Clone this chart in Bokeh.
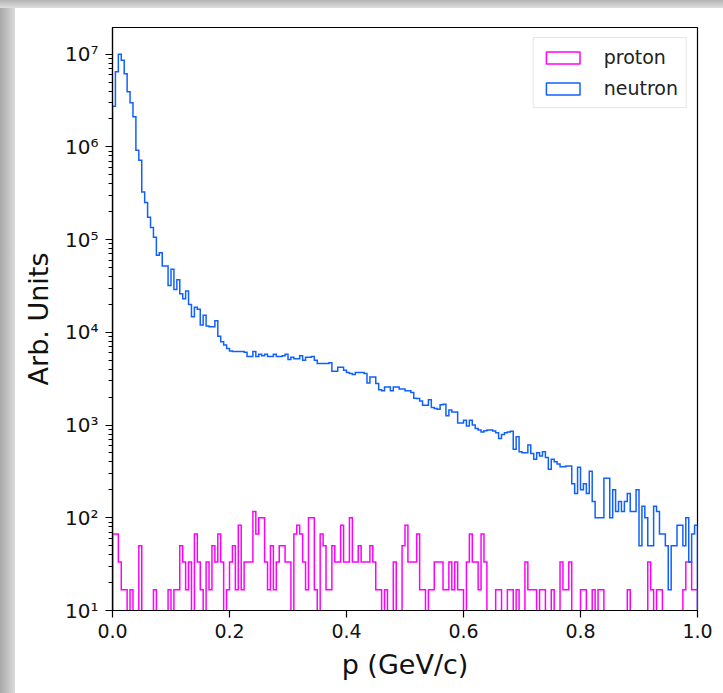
import numpy as np
from bokeh.plotting import figure
from bokeh.models import (Range1d, FixedTicker, CustomJSTickFormatter, NumeralTickFormatter,
                          Legend, LegendItem, Spacer, ColumnDataSource)
from bokeh.layouts import column, row
from bokeh.embed import file_html
from bokeh.resources import INLINE

# ---------------- data ----------------
P_MIN, P_MAX, N_BINS = 0.0, 1.0, 200

neutron_counts = [
    2.75e6, 6.46e6, 1.0e7, 8.6e6, 6.17e6, 3.93e6, 2.99e6, 2.11e6, 9.2e5, 7.2e5,
    3.27e5, 2.51e5, 1.74e5, 1.35e5, 1.06e5, 6.8e4, 7.2e4, 5.2e4, 5.2e4, 3.2e4,
    4.8e4, 2.9e4, 3.7e4, 2.6e4, 2.3e4, 2.8e4, 2.0e4, 1.47e4, 1.86e4, 1.77e4,
    1.2e4, 1.53e4, 1.17e4, 1.15e4, 1.15e4, 1.33e4, 9.1e3, 7.9e3, 7.3e3, 6.7e3,
    6.3e3, 6.2e3, 6.2e3, 6.2e3, 6.2e3, 6.1e3, 5.5e3, 5.5e3, 6.2e3, 5.5e3,
    5.8e3, 5.6e3, 5.8e3, 5.5e3, 5.5e3, 5.8e3, 5.5e3, 5.5e3, 5.6e3, 5.8e3,
    5.1e3, 5.4e3, 5.2e3, 5.2e3, 5.6e3, 5.0e3, 5.4e3, 5.4e3, 5.5e3, 5.0e3,
    4.6e3, 4.6e3, 4.6e3, 4.6e3, 4.7e3, 3.8e3, 3.8e3, 4.2e3, 4.2e3, 3.9e3,
    3.7e3, 3.6e3, 3.5e3, 3.7e3, 3.7e3, 3.7e3, 3.6e3, 2.85e3, 3.3e3, 3.3e3,
    2.8e3, 2.4e3, 2.35e3, 2.57e3, 2.57e3, 2.35e3, 2.57e3, 2.57e3, 2.45e3, 2.45e3,
    2.35e3, 2.35e3, 2.24e3, 1.95e3, 1.93e3, 1.82e3, 1.64e3, 1.64e3, 1.88e3, 1.55e3,
    1.51e3, 1.48e3, 1.66e3, 1.68e3, 1.26e3, 1.45e3, 1.38e3, 1.38e3, 1.05e3, 1.05e3,
    1130, 980, 1130, 1000, 920, 883, 841, 869, 883, 883,
    861, 826, 718, 793, 826, 841, 855, 547, 748, 515,
    504, 504, 608, 495, 427, 504, 463, 515, 448, 333,
    427, 403, 380, 356, 356, 361, 361, 233.3, 183.3, 350,
    200, 233.3, 183.3, 316.7, 150, 100, 100, 100, 266.7, 266.7,
    100, 200, 116.7, 150, 116.7, 150, 183.3, 116.7, 116.7, 200,
    50, 133.3, 100, 50, 50, 133.3, 116.7, 66.7, 66.7, 50,
    16.7, 50, 50, 83.3, 83.3, 50, 100, 33.3, 66.7, 83.3,
]

proton_counts = [
    66.7, 66.7, 33.3, 16.7, 16.7, 0, 16.7, 0, 0, 50,
    0, 0, 0, 0, 16.7, 0, 0, 0, 0, 16.7,
    0, 16.7, 16.7, 50, 33.3, 16.7, 33.3, 0, 66.7, 33.3,
    16.7, 0, 33.3, 16.7, 50, 33.3, 66.7, 33.3, 0, 16.7,
    33.3, 50, 16.7, 83.3, 16.7, 33.3, 33.3, 33.3, 116.7, 66.7,
    100, 100, 33.3, 16.7, 50, 16.7, 33.3, 50, 50, 33.3,
    33.3, 0, 66.7, 83.3, 66.7, 33.3, 16.7, 100, 100, 16.7,
    0, 66.7, 50, 16.7, 16.7, 50, 33.3, 33.3, 83.3, 33.3,
    33.3, 100, 33.3, 33.3, 50, 33.3, 33.3, 33.3, 50, 33.3,
    16.7, 16.7, 0, 16.7, 0, 0, 33.3, 0, 0, 50,
    83.3, 33.3, 33.3, 33.3, 66.7, 16.7, 16.7, 0, 16.7, 16.7,
    33.3, 33.3, 33.3, 16.7, 16.7, 33.3, 16.7, 33.3, 16.7, 16.7,
    0, 33.3, 66.7, 33.3, 33.3, 16.7, 66.7, 33.3, 0, 0,
    0, 16.7, 16.7, 0, 0, 16.7, 16.7, 0, 16.7, 0,
    0, 33.3, 16.7, 16.7, 16.7, 0, 16.7, 16.7, 0, 0,
    16.7, 0, 0, 33.3, 16.7, 16.7, 33.3, 0, 0, 0,
    16.7, 16.7, 0, 0, 16.7, 0, 16.7, 16.7, 0, 0,
    0, 0, 0, 0, 0, 0, 16.7, 0, 0, 0,
    0, 0, 0, 33.3, 16.7, 0, 16.7, 16.7, 0, 0,
    0, 0, 0, 0, 0, 16.7, 33.3, 33.3, 16.7, 16.7,
]

series_labels = ["proton", "neutron"]
x_ticks = [0.0, 0.2, 0.4, 0.6, 0.8, 1.0]
y_decades = [1, 2, 3, 4, 5, 6, 7]
Y_MIN, Y_MAX = 10, 1.94e7

PROTON_COLOR = "#ff00ff"
NEUTRON_COLOR = "#1060ff"
FONT = "DejaVu Sans"

edges = np.linspace(P_MIN, P_MAX, N_BINS + 1)
FLOOR = 1.0  # below the visible range: empty bins drop out of the frame


def step_path(vals):
    xs, ys = [edges[0]], [FLOOR]
    for i, v in enumerate(vals):
        v = v if v > 0 else FLOOR
        xs += [edges[i], edges[i + 1]]
        ys += [v, v]
    xs.append(edges[-1])
    ys.append(FLOOR)
    return xs, ys


p = figure(width=708, height=685,
           x_range=Range1d(P_MIN, P_MAX), y_range=Range1d(Y_MIN, Y_MAX),
           y_axis_type="log", output_backend="svg", toolbar_location=None,
           min_border_left=97, min_border_right=26, min_border_top=19,
           min_border_bottom=83)
p.background_fill_color = "white"
p.border_fill_color = "white"
p.grid.visible = False
p.outline_line_color = "black"
p.outline_line_width = 1.2
p.outline_line_alpha = 1.0

px, py = step_path(proton_counts)
nx, ny = step_path(neutron_counts)
p.line(px, py, line_color=PROTON_COLOR, line_width=1.5, line_join="miter")
p.line(nx, ny, line_color=NEUTRON_COLOR, line_width=1.5, line_join="miter")

# legend glyphs (outlined boxes like matplotlib step histograms); NaN row => nothing drawn in plot
leg_src = ColumnDataSource(dict(l=[np.nan], r=[np.nan], b=[np.nan], t=[np.nan]))
lp = p.quad(left="l", right="r", bottom="b", top="t", source=leg_src,
            fill_color=None, line_color=PROTON_COLOR, line_width=1.5)
ln = p.quad(left="l", right="r", bottom="b", top="t", source=leg_src,
            fill_color=None, line_color=NEUTRON_COLOR, line_width=1.5)
legend = Legend(items=[LegendItem(label=series_labels[0], renderers=[lp]),
                       LegendItem(label=series_labels[1], renderers=[ln])],
                location="top_right")
legend.label_text_font = FONT
legend.label_text_font_size = "19px"
legend.label_text_color = "#222222"
legend.glyph_width = 42
legend.glyph_height = 15
legend.label_height = 22
legend.label_standoff = 20
legend.spacing = 9
legend.padding = 8
legend.margin = 10
legend.border_line_color = "#cccccc"
legend.border_line_width = 1
legend.background_fill_color = "white"
legend.background_fill_alpha = 0.8
p.add_layout(legend)

# x axis
xa = p.xaxis[0]
xa.ticker = FixedTicker(ticks=x_ticks)
xa.formatter = NumeralTickFormatter(format="0.0")
xa.axis_label = "p (GeV/c)"

# y axis
ya = p.yaxis[0]
ya.ticker = FixedTicker(ticks=[10.0 ** k for k in y_decades],
                        minor_ticks=[m * 10.0 ** k for k in y_decades for m in range(2, 10)
                                     if m * 10.0 ** k < Y_MAX])
ya.formatter = CustomJSTickFormatter(code="""
const sup = {"0":"\u2070","1":"\u00b9","2":"\u00b2","3":"\u00b3","4":"\u2074",
             "5":"\u2075","6":"\u2076","7":"\u2077","8":"\u2078","9":"\u2079","-":"\u207b"};
const e = Math.round(Math.log10(tick));
return "10" + String(e).split("").map(c => sup[c]).join("");
""")
ya.axis_label = "Arb. Units"

for ax in (xa, ya):
    ax.axis_line_color = "black"
    ax.axis_line_width = 1.2
    ax.major_tick_line_color = "black"
    ax.major_tick_line_width = 1.2
    ax.major_tick_in = 0
    ax.major_tick_out = 7
    ax.minor_tick_line_color = "black"
    ax.minor_tick_line_width = 1
    ax.minor_tick_in = 0
    ax.minor_tick_out = 4
    ax.major_label_text_font = FONT
    ax.major_label_text_font_size = "19px"
    ax.major_label_text_color = "#111111"
    ax.axis_label_text_font = FONT
    ax.axis_label_text_font_size = "27px"
    ax.axis_label_text_font_style = "normal"
    ax.axis_label_text_color = "#111111"

xa.minor_tick_line_color = None
xa.major_label_standoff = 6
xa.axis_label_standoff = 8
ya.major_label_text_font_size = "20px"
ya.major_label_standoff = 7
ya.axis_label_standoff = 8

# light grey screenshot frame at the top and left edges
top_bar = Spacer(width=723, height=8,
                 styles={"background": "linear-gradient(to bottom, #b4b4b4, #dedede)"})
left_bar = Spacer(width=15, height=685,
                  styles={"background": "linear-gradient(to right, #a8a8a8, #dadada)"})
layout = column(top_bar, row(left_bar, p, spacing=0), spacing=0)

open("out.html", "w").write(file_html(layout, INLINE))
